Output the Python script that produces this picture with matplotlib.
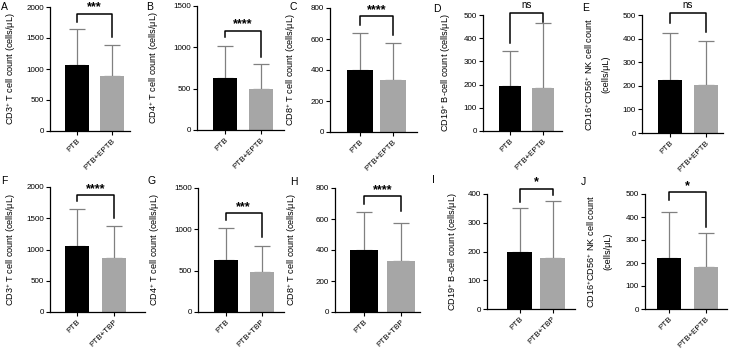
import numpy as np
import matplotlib
matplotlib.use("Agg")
import matplotlib.pyplot as plt

plt.rcParams["font.family"] = ["Liberation Sans", "DejaVu Sans"]
plt.rcParams["mathtext.fontset"] = "custom"
plt.rcParams["mathtext.rm"] = "Liberation Sans"

# ---- data ----
letters = ["A", "B", "C", "D", "E", "F", "G", "H", "I", "J"]
groups = [["PTB", "PTB+EPTB"]] * 5 + [["PTB", "PTB+TBP"]] * 4 + [["PTB", "PTB+EPTB"]]
ylabels = [
    "CD3$^{+}$ T cell count (cells/μL)",
    "CD4$^{+}$ T cell count (cells/μL)",
    "CD8$^{+}$ T cell count (cells/μL)",
    "CD19$^{+}$ B-cell count (cells/μL)",
    "CD16$^{+}$CD56$^{+}$ NK cell count\n(cells/μL)",
] * 2
mean_ptb = [1062, 627, 402, 194, 224, 1062, 628, 400, 198, 223]
top_ptb = [1641, 1021, 641, 345, 422, 1651, 1022, 644, 350, 420]
mean_cmp = [890, 495, 338, 187, 205, 858, 486, 329, 177, 184]
top_cmp = [1394, 796, 574, 464, 391, 1383, 799, 577, 377, 329]
ymax = [2000, 1500, 800, 500, 500, 2000, 1500, 800, 400, 500]
ystep = [500, 500, 200, 100, 100, 500, 500, 200, 100, 100]
sig = ["***", "****", "****", "ns", "ns", "****", "***", "****", "*", "*"]
# bracket: top, left drop end, right drop end
br_top = [1893, 1202, 746, 507, 507, 1877, 1196, 746, 419, 510]
br_left = [1759, 1122, 688, 381, 465, 1769, 1115, 696, 373, 474]
br_right = [1517, 889, 624, 471, 426, 1501, 912, 649, 396, 358]

# ---- layout in pixels: axis left, bar1 centre, bar2 centre, axis right, top, bottom, bar width
W, H = 729, 351
layout = [
    (50, 77, 112, 130, 7, 131, 24),
    (197, 225, 261, 284, 6, 130, 24),
    (330, 359.5, 393, 417, 8, 132, 26),
    (483, 510, 543, 562, 15, 131, 22),
    (642, 669.5, 706, 723, 15, 133, 24),
    (50, 77, 114, 145, 187, 312, 24),
    (198, 226, 261.5, 284, 188, 312, 24),
    (335, 364, 401, 420, 188, 312, 28),
    (487, 519.5, 552.5, 575, 194, 309, 25),
    (645, 669, 705.5, 727, 194, 309, 24),
]
letter_pos = [(1, 7), (146, 7), (290, 7), (433, 9), (582, 8),
              (1, 181), (147, 181), (290, 182), (432, 180), (581, 182)]
ylab_x = [18, 161, 298, 453, 610, 18, 162, 299, 460, 612]

fig = plt.figure(figsize=(W / 100, H / 100), dpi=100)

for i in range(10):
    l, c1, c2, r, t, b, bw = layout[i]
    u = c2 - c1
    ax = fig.add_axes([l / W, 1 - b / H, (r - l) / W, (b - t) / H])
    x = np.array([0, 1])
    means = [mean_ptb[i], mean_cmp[i]]
    errs = [top_ptb[i] - mean_ptb[i], top_cmp[i] - mean_cmp[i]]
    ax.bar(x, means, width=bw / u, color=["black", "#a6a6a6"], zorder=2)
    ax.errorbar(x, means, yerr=[[0, 0], errs], fmt="none", ecolor="#808080",
                elinewidth=0.9, capsize=5.5, capthick=0.9, zorder=1)
    ax.set_xlim((l - c1) / u, (r - c1) / u)
    ax.set_ylim(0, ymax[i])
    ax.set_yticks(np.arange(0, ymax[i] + 1, ystep[i]))
    ax.set_xticks(x)
    ax.set_xticklabels(groups[i], rotation=45, ha="right", rotation_mode="anchor",
                       fontsize=5.8)
    ax.tick_params(axis="y", labelsize=5.8, length=3, width=0.8, pad=1.5)
    ax.tick_params(axis="x", length=3, width=0.8, pad=1.5)
    for s in ["top", "right"]:
        ax.spines[s].set_visible(False)
    for s in ["left", "bottom"]:
        ax.spines[s].set_linewidth(0.9)

    # significance bracket
    ax.plot([0, 0, 1, 1], [br_left[i], br_top[i], br_top[i], br_right[i]],
            color="black", lw=1.1, clip_on=False)
    if sig[i] == "ns":
        ax.text(0.5, br_top[i] + ymax[i] * 0.025, "ns", ha="center", va="bottom",
                fontsize=7)
    else:
        ax.text(0.5, br_top[i], sig[i], ha="center", va="bottom",
                fontsize=9, fontweight="bold")

    ax.set_ylabel(ylabels[i], fontsize=6.6, linespacing=1.9)
    ax.yaxis.set_label_coords(ylab_x[i] / W, 1 - (t + b) / 2 / H, transform=fig.transFigure)
    fig.text(letter_pos[i][0] / W, 1 - letter_pos[i][1] / H, letters[i],
             fontsize=7.5, ha="left", va="center")

fig.savefig("out.png", dpi=100)
